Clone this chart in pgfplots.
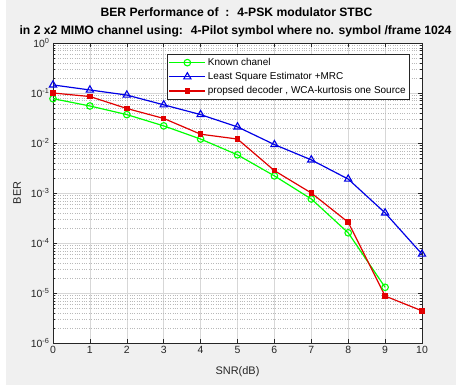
\documentclass[border=0pt]{standalone}
\usepackage{pgfplots}
\pgfplotsset{compat=1.18}
\usepackage{fontspec}
\setmainfont{Liberation Sans}
\definecolor{figbg}{RGB}{240,240,240}
\definecolor{gridc}{RGB}{215,215,215}
\definecolor{axc}{RGB}{38,38,38}
\definecolor{mgreen}{RGB}{0,255,0}
\definecolor{mblue}{RGB}{0,0,230}
\definecolor{mred}{RGB}{225,0,0}
\begin{document}
\begin{tikzpicture}[x=1bp,y=1bp]
\fill[figbg] (-53,-42) rectangle (403,343);
\fill[white] (-53,-42) rectangle (-47,343);
\begin{axis}[
  at={(0,0)}, anchor=south west,
  scale only axis, width=369bp, height=300bp,
  ymode=log, xmin=0, xmax=10, ymin=1e-6, ymax=1,
  xtick={0,1,2,3,4,5,6,7,8,9,10},
  ytick={1e-6,1e-5,1e-4,1e-3,1e-2,1e-1,1},
  yticklabels={10\textsuperscript{-6},10\textsuperscript{-5},10\textsuperscript{-4},10\textsuperscript{-3},10\textsuperscript{-2},10\textsuperscript{-1},10\textsuperscript{0}},
  /pgf/number format/assume math mode=true,
  ticklabel style={font=\fontsize{10.5}{12}\selectfont, text=axc},
  tick align=inside, tick pos=both,
  major tick length=4bp, minor tick length=2bp,
  tick style={axc, line width=0.5pt},
  axis line style={axc, line width=0.6pt},
  axis background/.style={fill=white},
  grid=both,
  major grid style={gridc, line width=0.5pt},
  minor grid style={gray!55, dotted, line width=0.5pt},
  minor x tick num=0,
  xlabel={SNR(dB)}, ylabel={BER},
  label style={font=\fontsize{11}{13}\selectfont, text=axc},
  x label style={at={(axis description cs:0.5,-0.097)}, anchor=center},
  y label style={at={(axis description cs:-0.0976,0.5)}, anchor=center, rotate=0},
  legend style={at={(axis description cs:0.967,0.963)}, anchor=north east,
    font=\fontsize{10}{12}\selectfont, draw=axc, fill=white,
    row sep=1.5bp, inner sep=2bp},
  legend cell align=left,
  legend image code/.code={\draw[mark repeat=2,mark phase=2] plot coordinates {(0bp,0bp) (18bp,0bp) (36bp,0bp)};},
]
\addplot[mgreen, line width=1.2pt, mark=o, mark size=3.3pt, mark options={line width=1.1pt}]
 coordinates {(0,0.077) (1,0.055) (2,0.037) (3,0.022) (4,0.012) (5,0.0058) (6,0.0022) (7,0.00076) (8,0.00016) (9,0.000013)};
\addlegendentry{Known chanel}
\addplot[mblue, line width=1.2pt, mark=triangle, mark size=4.2pt, mark options={line width=1.1pt}]
 coordinates {(0,0.145) (1,0.115) (2,0.091) (3,0.058) (4,0.037) (5,0.021) (6,0.0093) (7,0.0046) (8,0.0019) (9,0.0004) (10,0.00006)};
\addlegendentry{Least Square Estimator +MRC}
\addplot[mred, line width=1.2pt, mark=square*, mark size=2.2pt]
 coordinates {(0,0.1) (1,0.085) (2,0.049) (3,0.031) (4,0.015) (5,0.012) (6,0.0028) (7,0.001) (8,0.00026) (9,0.0000087) (10,0.0000044)};
\addlegendentry{propsed decoder , WCA-kurtosis one Source}
\end{axis}
\node[font=\bfseries\fontsize{12.2}{14}\selectfont, text=black, anchor=base] at (183.5,326.5) {BER Performance of \ : \ 4-PSK modulator STBC};
\node[font=\bfseries\fontsize{12.2}{14}\selectfont, text=black, anchor=base] at (182.5,309) {in 2 x2 MIMO channel using: \ 4-Pilot symbol where no. symbol /frame 1024};
\pgfresetboundingbox
\path (-53,-42) rectangle (403,343);
\end{tikzpicture}
\end{document}
